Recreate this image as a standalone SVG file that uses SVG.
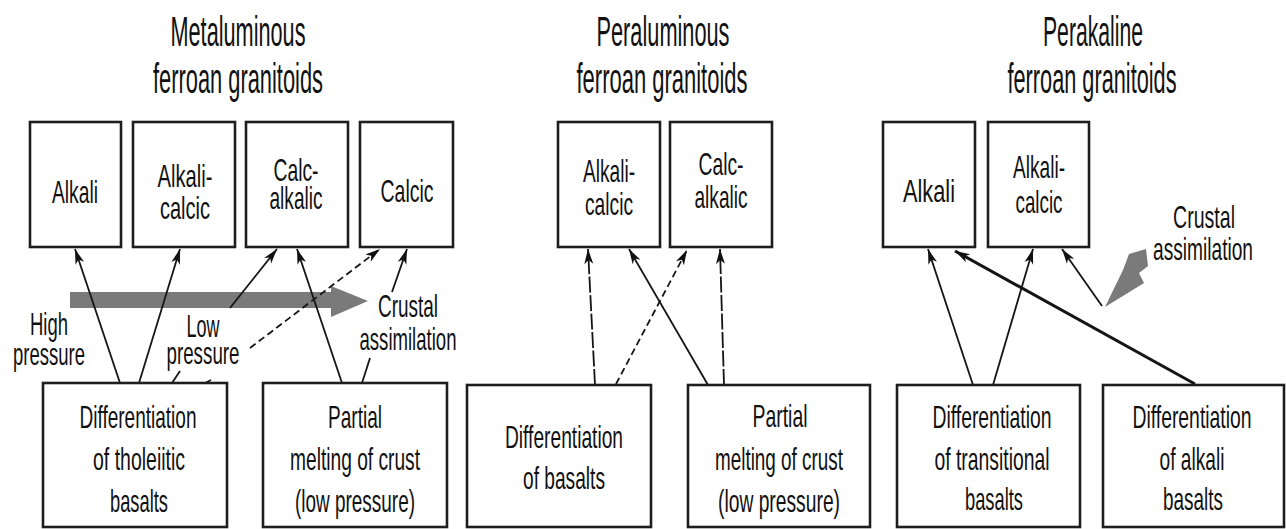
<svg xmlns="http://www.w3.org/2000/svg" width="1286" height="529" viewBox="0 0 1286 529">
<style>
.box{fill:#fff;stroke:#1e1e1e;stroke-width:2.6}
.t{font-family:"Liberation Sans",Arial,sans-serif;font-size:32px;fill:#111;text-anchor:middle}
.h{font-family:"Liberation Sans",Arial,sans-serif;font-size:43px;fill:#111;text-anchor:middle}
.ln{stroke:#151515;stroke-width:1.8;fill:none}
.thick{stroke:#151515;stroke-width:3;fill:none}
.dash{stroke-dasharray:7 4}
.ldash{stroke-dasharray:16 2.5}
.grey{fill:#7a7a7a}
</style>
<defs>
<marker id="ah" viewBox="-16 -5 17 10" refX="0" refY="0" markerWidth="17" markerHeight="10" markerUnits="userSpaceOnUse" orient="auto">
<path d="M0,0 L-15,-4.5 L-11,0 L-15,4.5 Z" fill="#111"/>
</marker>
</defs>
<rect width="1286" height="529" fill="#fff"/>

<g id="titles">
<text class="h" x="238" y="46" textLength="135" lengthAdjust="spacingAndGlyphs">Metaluminous</text>
<text class="h" x="238" y="93" textLength="170" lengthAdjust="spacingAndGlyphs">ferroan granitoids</text>
<text class="h" x="663" y="46" textLength="133" lengthAdjust="spacingAndGlyphs">Peraluminous</text>
<text class="h" x="662" y="93" textLength="171" lengthAdjust="spacingAndGlyphs">ferroan granitoids</text>
<text class="h" x="1093" y="46" textLength="100" lengthAdjust="spacingAndGlyphs">Perakaline</text>
<text class="h" x="1092" y="93" textLength="169" lengthAdjust="spacingAndGlyphs">ferroan granitoids</text>
</g>

<g id="grey-arrows">
<path class="grey" d="M70,292 L331,292 L331,286 L368,301 L331,317 L331,308 L70,308 Z"/>
<path class="grey" d="M1129,254 L1146,249 L1148,266 L1139,273 L1144,283 L1105,307 L1123,270 Z"/>
</g>

<g id="connectors">
<line class="ln" x1="120" y1="383" x2="75" y2="249" marker-end="url(#ah)"/>
<line class="ln" x1="139" y1="383" x2="180" y2="249" marker-end="url(#ah)"/>
<line class="ln" x1="230" y1="308" x2="277" y2="249" marker-end="url(#ah)"/>
<line class="ln" x1="342" y1="383" x2="297" y2="249" marker-end="url(#ah)"/>
<line class="ln dash" x1="250" y1="348" x2="380" y2="249" marker-end="url(#ah)"/>
<line class="ln" x1="392" y1="292" x2="407" y2="249" marker-end="url(#ah)"/>
<line class="ln" x1="362" y1="383" x2="370" y2="358"/>
<line class="ln" x1="172" y1="383" x2="180" y2="371"/>
<line class="ln" x1="205" y1="383" x2="211" y2="380"/>

<line class="ln ldash" x1="595" y1="385" x2="588" y2="249" marker-end="url(#ah)"/>
<line class="ln dash" x1="616" y1="384" x2="687" y2="250" marker-end="url(#ah)"/>
<line class="ln" x1="708" y1="385" x2="629" y2="249" marker-end="url(#ah)"/>
<line class="ln ldash" x1="724" y1="385" x2="720" y2="249" marker-end="url(#ah)"/>

<line class="ln" x1="973" y1="385" x2="928" y2="249" marker-end="url(#ah)"/>
<line class="ln" x1="993" y1="385" x2="1033" y2="249" marker-end="url(#ah)"/>
<line class="thick" x1="1195" y1="384" x2="955" y2="251" marker-end="url(#ah)"/>
<line class="ln" x1="1102" y1="306" x2="1062" y2="249" marker-end="url(#ah)"/>
</g>

<g id="n-alkali-1"><rect class="box" x="30" y="122" width="91" height="125"/>
<text class="t" x="75" y="203" textLength="46" lengthAdjust="spacingAndGlyphs">Alkali</text></g>
<g id="n-alkalicalcic-1"><rect class="box" x="133" y="122" width="102" height="125"/>
<text class="t" x="185" y="187" textLength="55" lengthAdjust="spacingAndGlyphs">Alkali-</text>
<text class="t" x="185" y="219" textLength="50" lengthAdjust="spacingAndGlyphs">calcic</text></g>
<g id="n-calcalkalic-1"><rect class="box" x="246" y="122" width="102" height="125"/>
<text class="t" x="296" y="181" textLength="45" lengthAdjust="spacingAndGlyphs">Calc-</text>
<text class="t" x="296" y="209" textLength="53" lengthAdjust="spacingAndGlyphs">alkalic</text></g>
<g id="n-calcic-1"><rect class="box" x="360" y="122" width="93" height="125"/>
<text class="t" x="407" y="202" textLength="53" lengthAdjust="spacingAndGlyphs">Calcic</text></g>

<g id="n-tholeiitic"><rect class="box" x="43" y="383" width="184" height="144"/>
<text class="t" x="138" y="428" textLength="117" lengthAdjust="spacingAndGlyphs">Differentiation</text>
<text class="t" x="139" y="470" textLength="92" lengthAdjust="spacingAndGlyphs">of tholeiitic</text>
<text class="t" x="139" y="512" textLength="58" lengthAdjust="spacingAndGlyphs">basalts</text></g>
<g id="n-partial-1"><rect class="box" x="263" y="383" width="184" height="144"/>
<text class="t" x="355" y="428" textLength="54" lengthAdjust="spacingAndGlyphs">Partial</text>
<text class="t" x="355" y="470" textLength="130" lengthAdjust="spacingAndGlyphs">melting of crust</text>
<text class="t" x="355" y="512" textLength="120" lengthAdjust="spacingAndGlyphs">(low pressure)</text></g>

<g id="label-high"><text class="t" x="49" y="335" textLength="38" lengthAdjust="spacingAndGlyphs">High</text>
<text class="t" x="49" y="365" textLength="72" lengthAdjust="spacingAndGlyphs">pressure</text></g>
<g id="label-low"><text class="t" x="203" y="337" textLength="33" lengthAdjust="spacingAndGlyphs">Low</text>
<text class="t" x="203" y="364" textLength="73" lengthAdjust="spacingAndGlyphs">pressure</text></g>
<g id="label-crustal-1"><text class="t" x="408" y="317" textLength="60" lengthAdjust="spacingAndGlyphs">Crustal</text>
<text class="t" x="408" y="350" textLength="97" lengthAdjust="spacingAndGlyphs">assimilation</text></g>

<g id="n-alkalicalcic-2"><rect class="box" x="558" y="122" width="102" height="125"/>
<text class="t" x="609" y="182" textLength="52" lengthAdjust="spacingAndGlyphs">Alkali-</text>
<text class="t" x="609" y="215" textLength="48" lengthAdjust="spacingAndGlyphs">calcic</text></g>
<g id="n-calcalkalic-2"><rect class="box" x="670" y="122" width="102" height="125"/>
<text class="t" x="721" y="175" textLength="45" lengthAdjust="spacingAndGlyphs">Calc-</text>
<text class="t" x="721" y="208" textLength="53" lengthAdjust="spacingAndGlyphs">alkalic</text></g>
<g id="n-basalts"><rect class="box" x="467" y="385" width="184" height="142"/>
<text class="t" x="564" y="448" textLength="118" lengthAdjust="spacingAndGlyphs">Differentiation</text>
<text class="t" x="564" y="489" textLength="82" lengthAdjust="spacingAndGlyphs">of basalts</text></g>
<g id="n-partial-2"><rect class="box" x="688" y="385" width="182" height="142"/>
<text class="t" x="780" y="427" textLength="55" lengthAdjust="spacingAndGlyphs">Partial</text>
<text class="t" x="779" y="470" textLength="128" lengthAdjust="spacingAndGlyphs">melting of crust</text>
<text class="t" x="779" y="512" textLength="122" lengthAdjust="spacingAndGlyphs">(low pressure)</text></g>

<g id="n-alkali-3"><rect class="box" x="883" y="122" width="92" height="125"/>
<text class="t" x="929" y="202" textLength="52" lengthAdjust="spacingAndGlyphs">Alkali</text></g>
<g id="n-alkalicalcic-3"><rect class="box" x="988" y="122" width="101" height="125"/>
<text class="t" x="1039" y="178" textLength="52" lengthAdjust="spacingAndGlyphs">Alkali-</text>
<text class="t" x="1039" y="213" textLength="47" lengthAdjust="spacingAndGlyphs">calcic</text></g>
<g id="n-transitional"><rect class="box" x="897" y="385" width="183" height="142"/>
<text class="t" x="992" y="428" textLength="119" lengthAdjust="spacingAndGlyphs">Differentiation</text>
<text class="t" x="992" y="470" textLength="115" lengthAdjust="spacingAndGlyphs">of transitional</text>
<text class="t" x="994" y="510" textLength="58" lengthAdjust="spacingAndGlyphs">basalts</text></g>
<g id="n-alkalibasalts"><rect class="box" x="1103" y="385" width="181" height="142"/>
<text class="t" x="1192" y="428" textLength="119" lengthAdjust="spacingAndGlyphs">Differentiation</text>
<text class="t" x="1192" y="470" textLength="65" lengthAdjust="spacingAndGlyphs">of alkali</text>
<text class="t" x="1193" y="510" textLength="60" lengthAdjust="spacingAndGlyphs">basalts</text></g>
<g id="label-crustal-3"><text class="t" x="1204" y="228" textLength="62" lengthAdjust="spacingAndGlyphs">Crustal</text>
<text class="t" x="1203" y="260" textLength="100" lengthAdjust="spacingAndGlyphs">assimilation</text></g>
</svg>
